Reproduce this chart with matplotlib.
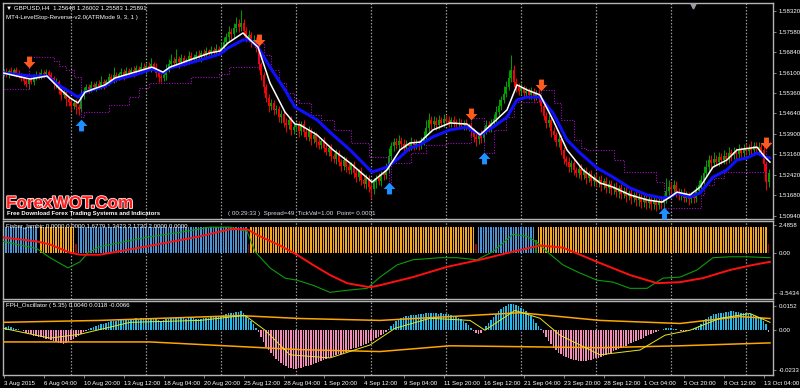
import numpy as np
import matplotlib
matplotlib.use("Agg")
import matplotlib.pyplot as plt
import matplotlib.patheffects as pe
import matplotlib.transforms as mtrans
from matplotlib.path import Path

plt.rcParams['font.family'] = ['Liberation Sans', 'DejaVu Sans']

# ---------------- DATA ----------------
# bar index 0 = Mon 3 Aug 2015 00:00 (H4 bars, 6 per day, 30 per week)
first_bar = 3
first_open = 1.5606
closes = [
    1.5612, 1.5605, 1.5615, 1.5608, 1.5618, 1.5610, 1.5600,
    1.5592, 1.5580, 1.5570, 1.5585, 1.5578, 1.5595, 1.5603, 1.5598, 1.5610, 1.5605,
    1.5612, 1.5600, 1.5590, 1.5568, 1.5575, 1.5548, 1.5530, 1.5540, 1.5515, 1.5505,
    1.5490, 1.5502, 1.5488, 1.5480, 1.5530, 1.5545, 1.5560, 1.5552, 1.5565, 1.5558,
    1.5570, 1.5562, 1.5575, 1.5568, 1.5580, 1.5595, 1.5585, 1.5600, 1.5592, 1.5605,
    1.5612, 1.5600, 1.5615, 1.5608, 1.5620, 1.5612, 1.5625, 1.5618, 1.5630, 1.5622,
    1.5635, 1.5628, 1.5640, 1.5632, 1.5610, 1.5595, 1.5590, 1.5600, 1.5625, 1.5640,
    1.5652, 1.5645, 1.5660, 1.5650, 1.5662, 1.5648, 1.5655, 1.5670, 1.5660, 1.5668,
    1.5675, 1.5665, 1.5680, 1.5672, 1.5688, 1.5680, 1.5690, 1.5684, 1.5695, 1.5688,
    1.5700, 1.5720, 1.5740, 1.5755, 1.5748, 1.5770, 1.5785, 1.5775, 1.5790, 1.5760,
    1.5735, 1.5745, 1.5720, 1.5728, 1.5700, 1.5640, 1.5600, 1.5560, 1.5520, 1.5490,
    1.5500, 1.5475, 1.5480, 1.5450, 1.5460, 1.5430, 1.5420, 1.5440, 1.5405, 1.5415,
    1.5420, 1.5400, 1.5425, 1.5395, 1.5380, 1.5400, 1.5370, 1.5385, 1.5360, 1.5350,
    1.5365, 1.5340, 1.5325, 1.5340, 1.5310, 1.5300, 1.5320, 1.5290, 1.5275, 1.5295,
    1.5270, 1.5260, 1.5280, 1.5250, 1.5235, 1.5255, 1.5225, 1.5210, 1.5230, 1.5200,
    1.5190, 1.5215, 1.5230, 1.5220, 1.5245, 1.5240, 1.5260, 1.5310, 1.5345, 1.5360,
    1.5350, 1.5365, 1.5355, 1.5340, 1.5352, 1.5345, 1.5358, 1.5348, 1.5355, 1.5350,
    1.5362, 1.5380, 1.5410, 1.5440, 1.5425, 1.5435, 1.5420, 1.5440, 1.5430, 1.5445,
    1.5435, 1.5428, 1.5440, 1.5432, 1.5425, 1.5430, 1.5420, 1.5428, 1.5415, 1.5420,
    1.5400, 1.5380, 1.5370, 1.5385, 1.5375, 1.5400, 1.5420, 1.5410, 1.5430, 1.5445,
    1.5470, 1.5490, 1.5510, 1.5535, 1.5560, 1.5590, 1.5620, 1.5575, 1.5560, 1.5545,
    1.5555, 1.5538, 1.5545, 1.5530, 1.5540, 1.5525, 1.5535, 1.5520, 1.5490, 1.5455,
    1.5430, 1.5440, 1.5400, 1.5385, 1.5360, 1.5370, 1.5330, 1.5300, 1.5290, 1.5270,
    1.5285, 1.5260, 1.5250, 1.5265, 1.5240, 1.5255, 1.5230, 1.5245, 1.5220, 1.5235,
    1.5215, 1.5225, 1.5205, 1.5220, 1.5195, 1.5210, 1.5190, 1.5200, 1.5180, 1.5195,
    1.5175, 1.5185, 1.5165, 1.5178, 1.5160, 1.5170, 1.5150, 1.5162, 1.5145, 1.5158,
    1.5140, 1.5152, 1.5138, 1.5148, 1.5135, 1.5145, 1.5140, 1.5155, 1.5185, 1.5200,
    1.5190, 1.5205, 1.5180, 1.5170, 1.5178, 1.5160, 1.5170, 1.5155, 1.5165, 1.5160,
    1.5185, 1.5205, 1.5225, 1.5250, 1.5270, 1.5295, 1.5285, 1.5300, 1.5290, 1.5305,
    1.5295, 1.5310, 1.5300, 1.5320, 1.5312, 1.5325, 1.5318, 1.5330, 1.5322, 1.5335,
    1.5328, 1.5340, 1.5332, 1.5345, 1.5335, 1.5342, 1.5330, 1.5280, 1.5215, 1.5250,
]
# wick sizes in pips (above body / below body)
upper_wick = [
    10, 14, 7, 16, 9, 12, 8,
    9, 14, 10, 7, 15, 9, 12, 10, 14, 8,
    10, 7, 12, 9, 15, 10, 7, 14, 9, 10,
    12, 9, 15, 10, 20, 14, 10, 9, 15, 12,
    10, 14, 24, 12, 9, 15, 10, 30, 12, 9,
    14, 10, 17, 12, 9, 15, 12, 10, 20, 14,
    9, 15, 24, 10, 14, 9, 12, 15, 17, 20,
    25, 14, 34, 10, 15, 12, 9, 19, 14, 10,
    12, 15, 10, 17, 14, 9, 15, 12, 19, 10,
    17, 20, 14, 24, 15, 19, 27, 17, 45, 14,
    15, 17, 12, 19, 10, 14, 9, 12, 10, 14,
    17, 10, 15, 9, 14, 12, 17, 10, 15, 12,
    14, 17, 10, 15, 12, 19, 10, 14, 12, 15,
    10, 14, 12, 9, 15, 10, 17, 12, 9, 14,
    10, 15, 9, 12, 14, 10, 15, 12, 17, 10,
    14, 17, 12, 20, 10, 15, 24, 30, 17, 14,
    15, 20, 12, 17, 14, 10, 19, 12, 15, 14,
    17, 20, 30, 25, 15, 19, 14, 17, 12, 15,
    14, 19, 12, 15, 10, 17, 14, 12, 15, 10,
    14, 10, 15, 12, 17, 14, 19, 15, 12, 17,
    20, 24, 17, 27, 20, 30, 55, 17, 15, 14,
    17, 12, 15, 10, 19, 14, 12, 17, 10, 15,
    14, 17, 12, 15, 10, 14, 17, 12, 10, 15,
    12, 15, 10, 14, 17, 12, 15, 10, 14, 12,
    15, 12, 17, 10, 14, 15, 12, 14, 17, 10,
    14, 12, 15, 10, 17, 12, 14, 15, 10, 14,
    12, 15, 10, 14, 12, 17, 20, 15, 45, 24,
    17, 20, 14, 15, 12, 17, 14, 10, 15, 12,
    17, 20, 15, 24, 27, 20, 17, 25, 15, 19,
    17, 20, 15, 24, 14, 19, 15, 22, 14, 17,
    20, 15, 24, 17, 14, 19, 15, 20, 10, 14,
]
lower_wick = [
    9, 12, 15, 7, 10, 14, 9,
    12, 15, 10, 20, 9, 14, 10, 12, 9, 15,
    10, 14, 9, 17, 12, 15, 20, 10, 24, 14,
    17, 12, 27, 24, 10, 14, 9, 15, 10, 12,
    14, 9, 12, 15, 10, 14, 9, 12, 15, 10,
    12, 15, 9, 14, 10, 17, 12, 9, 14, 10,
    15, 10, 14, 12, 17, 20, 14, 10, 15, 12,
    10, 14, 9, 24, 12, 15, 10, 14, 9, 12,
    14, 10, 15, 12, 9, 14, 10, 15, 12, 14,
    10, 14, 12, 15, 17, 14, 12, 20, 15, 17,
    14, 15, 19, 12, 17, 20, 15, 24, 17, 20,
    15, 19, 14, 17, 20, 15, 24, 14, 19, 17,
    15, 20, 14, 17, 12, 15, 19, 14, 17, 15,
    14, 17, 12, 15, 19, 14, 17, 15, 20, 14,
    17, 15, 14, 20, 17, 14, 19, 15, 17, 20,
    34, 17, 20, 14, 17, 15, 14, 12, 15, 17,
    14, 17, 15, 19, 14, 17, 12, 15, 14, 17,
    15, 14, 12, 15, 17, 14, 15, 12, 17, 14,
    12, 15, 14, 17, 12, 15, 14, 17, 12, 15,
    17, 20, 24, 15, 19, 14, 12, 15, 14, 12,
    14, 12, 15, 10, 14, 12, 15, 17, 20, 15,
    14, 17, 12, 15, 14, 17, 15, 14, 20, 17,
    19, 15, 20, 17, 15, 19, 17, 20, 15, 19,
    17, 20, 15, 19, 17, 14, 20, 15, 19, 17,
    17, 15, 20, 14, 19, 17, 20, 15, 17, 20,
    19, 17, 20, 15, 24, 17, 20, 19, 22, 17,
    20, 17, 24, 19, 22, 17, 20, 15, 14, 17,
    15, 14, 19, 17, 20, 15, 17, 20, 15, 19,
    14, 12, 15, 14, 17, 15, 19, 14, 17, 15,
    15, 14, 17, 15, 19, 14, 17, 15, 14, 17,
    15, 17, 14, 19, 15, 17, 20, 24, 27, 17,
]

# fast (white) and slow (blue) averages, vertices (bar, price)
white_bar = [2.8, 13.6, 20.4, 25.6, 29.6, 32.8, 35.6, 43.6, 47.6, 55.6, 62.4, 66.8, 69.6, 77.6,
             85.6, 89.6, 92.8, 98.8, 101.6, 104.8, 109.6, 115.6, 119.6, 121.6, 128.4, 134.8,
             141.6, 150.4, 156.4, 161.6, 165.6, 169.6, 174.8, 181.6, 188.4, 193.6, 198.8,
             204.4, 208.4, 212.4, 217.6, 222.8, 228.4, 234.8, 241.6, 246.8, 253.6, 260.4,
             266.4, 269.6, 272.4, 277.6, 281.6, 286.8, 292.4, 296.4, 304.4, 307.6, 309.6]
white_price = [1.5609, 1.5587, 1.5598, 1.5551, 1.5519, 1.5501, 1.5540, 1.5566, 1.5591, 1.5612,
               1.5630, 1.5612, 1.5630, 1.5656, 1.5681, 1.5688, 1.5717, 1.5753, 1.5728, 1.5702,
               1.5573, 1.5468, 1.5425, 1.5422, 1.5386, 1.5332, 1.5285, 1.5216, 1.5260, 1.5332,
               1.5357, 1.5360, 1.5404, 1.5429, 1.5425, 1.5386, 1.5429, 1.5476, 1.5566, 1.5548,
               1.5530, 1.5440, 1.5332, 1.5260, 1.5213, 1.5198, 1.5170, 1.5152, 1.5144, 1.5162,
               1.5180, 1.5170, 1.5198, 1.5270, 1.5296, 1.5332, 1.5342, 1.5306, 1.5288]
blue_bar = [2.8, 13.6, 20.4, 25.6, 29.6, 32.8, 35.6, 43.6, 47.6, 55.6, 62.4, 66.8, 69.6, 77.6,
            85.6, 89.6, 92.8, 98.8, 101.6, 104.8, 109.6, 115.6, 119.6, 121.6, 128.4, 134.8,
            141.6, 150.4, 156.4, 161.6, 165.6, 169.6, 174.8, 181.6, 188.4, 193.6, 198.8,
            204.4, 208.4, 212.4, 217.6, 222.8, 228.4, 233.6, 240.4, 246.8, 253.6, 260.4,
            266.4, 269.6, 272.4, 277.6, 281.6, 286.8, 292.4, 296.4, 300.4, 304.4, 307.6, 309.6]
blue_price = [1.5609, 1.5598, 1.5598, 1.5562, 1.5540, 1.5522, 1.5540, 1.5562, 1.5584, 1.5602,
              1.5623, 1.5609, 1.5627, 1.5645, 1.5666, 1.5677, 1.5699, 1.5728, 1.5728, 1.5702,
              1.5630, 1.5548, 1.5486, 1.5476, 1.5440, 1.5386, 1.5332, 1.5252, 1.5270, 1.5306,
              1.5339, 1.5350, 1.5379, 1.5404, 1.5414, 1.5386, 1.5414, 1.5450, 1.5512, 1.5522,
              1.5522, 1.5465, 1.5368, 1.5321, 1.5267, 1.5234, 1.5195, 1.5170, 1.5159, 1.5162,
              1.5177, 1.5162, 1.5177, 1.5234, 1.5260, 1.5296, 1.5303, 1.5321, 1.5306, 1.5303]

# LevelStop-Reverse stop line (step starts)
stop_bar = [3, 13, 23, 25, 28, 31, 34, 35, 45, 53, 57, 61, 78, 89, 93, 105, 107, 110, 113, 116,
            119, 121, 126, 130, 135, 142, 149, 157, 158, 166, 172, 180, 190, 195, 199, 204, 207,
            218, 223, 226, 231, 234, 236, 247, 251, 264, 267, 282, 283, 287, 291, 308, 310]
stop_price = [1.5551, 1.5666, 1.5652, 1.5634, 1.5620, 1.5594, 1.5450, 1.5468, 1.5494, 1.5522,
              1.5555, 1.5573, 1.5594, 1.5605, 1.5630, 1.5717, 1.5674, 1.5620, 1.5573, 1.5537,
              1.5512, 1.5501, 1.5458, 1.5440, 1.5404, 1.5357, 1.5306, 1.5198, 1.5285, 1.5321,
              1.5350, 1.5357, 1.5447, 1.5321, 1.5404, 1.5450, 1.5505, 1.5548, 1.5501, 1.5440,
              1.5368, 1.5339, 1.5332, 1.5296, 1.5252, 1.5216, 1.5123, 1.5170, 1.5206, 1.5231,
              1.5252, 1.5360, 1.5360]

sell_bar = [13, 105, 190, 218, 308]
sell_price = [1.5648, 1.5728, 1.5461, 1.5566, 1.5357]
buy_bar = [34, 157, 195, 267]
buy_price = [1.5422, 1.5195, 1.5303, 1.5105]

price_ticks = [1.58320, 1.57580, 1.56840, 1.56100, 1.55360, 1.54640,
               1.53900, 1.53160, 1.52420, 1.51680, 1.50940]

# Fisher histogram segments
fisher_seg_start = [3, 18, 32, 33, 101, 102, 192, 193, 216, 217, 309]
fisher_seg_end = [16, 31, 32, 100, 101, 191, 192, 215, 216, 308, 309]
fisher_seg_kind = ['up', 'down', 'weak_dn', 'up', 'weak_dn', 'down', 'weak_dn', 'up', 'weak_up', 'down', 'weak_dn']
fisher_seg_value = [2.0, 2.0, 0.7, 2.0, 0.7, 2.0, 0.7, 2.0, 1.0, 2.0, 0.7]

fisher_green_bar = [2.8, 16.4, 21.6, 28.8, 33.6, 36.8, 41.6, 60.0, 73.6, 85.6, 93.6, 100.4, 103.6,
                    109.6, 115.6, 120.4, 126.8, 133.6, 140.4, 148.4, 153.6, 160.4, 166.8, 177.6,
                    184.4, 192.4, 198.8, 206.8, 212.4, 216.4, 220.4, 226.8, 233.6, 240.4, 246.8,
                    253.6, 260.4, 266.8, 273.6, 280.4, 286.8, 293.6, 300.4, 309.6]
fisher_green = [0.91, 0.35, -0.35, -1.14, -0.67, 0.04, 0.51, 1.22, 1.61, 2.01, 2.01, 1.69, 0.12,
                -1.14, -1.93, -2.09, -2.48, -3.03, -2.87, -2.72, -1.85, -0.91, -0.51, -0.35,
                -0.35, -0.51, 0.12, 1.46, 1.30, 0.83, 0.12, -0.91, -1.54, -2.09, -2.24,
                -2.72, -2.72, -1.93, -1.85, -1.30, -0.35, -0.28, -0.28, -0.35]
fisher_red_bar = [2.8, 16.4, 21.6, 29.6, 33.6, 41.6, 60.0, 81.6, 93.6, 100.4, 105.6, 113.6, 120.4,
                  126.8, 133.6, 140.4, 149.6, 153.6, 166.8, 180.4, 193.6, 206.8, 217.6, 226.8,
                  233.6, 240.4, 253.6, 264.4, 273.6, 282.8, 293.6, 302.8, 309.6]
fisher_red = [1.22, 0.91, 0.67, 0.04, -0.12, -0.12, 0.51, 1.30, 1.85, 1.85, 1.30, 0.59, -0.12,
              -0.91, -1.69, -2.32, -2.64, -2.48, -1.85, -1.06, -0.51, 0.12, 0.59, 0.43,
              -0.12, -0.67, -1.69, -2.32, -2.24, -1.93, -1.30, -0.91, -0.67]

# FPH oscillator histogram (one value per bar)
fph_hist = [
    0.0015, 0.0018, 0.0020, 0.0016, 0.0012, 0.0008, 0.0004,
    0.0000, -0.0006, -0.0012, -0.0018, -0.0022, -0.0028, -0.0030, -0.0034, -0.0036, -0.0040,
    -0.0044, -0.0048, -0.0052, -0.0058, -0.0062, -0.0066, -0.0068, -0.0070, -0.0066, -0.0060,
    -0.0052, -0.0044, -0.0036, -0.0028, -0.0018, -0.0010, -0.0004, 0.0004, 0.0010, 0.0016,
    0.0020, 0.0026, 0.0030, 0.0034, 0.0038, 0.0042, 0.0046, 0.0048, 0.0050, 0.0052,
    0.0054, 0.0056, 0.0058, 0.0056, 0.0058, 0.0060, 0.0062, 0.0060, 0.0062, 0.0064,
    0.0066, 0.0064, 0.0066, 0.0062, 0.0056, 0.0052, 0.0050, 0.0052, 0.0056, 0.0060,
    0.0062, 0.0064, 0.0066, 0.0064, 0.0066, 0.0062, 0.0060, 0.0062, 0.0064, 0.0062,
    0.0060, 0.0058, 0.0060, 0.0062, 0.0064, 0.0066, 0.0068, 0.0070, 0.0072, 0.0074,
    0.0076, 0.0080, 0.0084, 0.0088, 0.0090, 0.0092, 0.0094, 0.0096, 0.0098, 0.0090,
    0.0076, 0.0060, 0.0046, 0.0030, 0.0012, -0.0010, -0.0035, -0.0060, -0.0085, -0.0105,
    -0.0120, -0.0135, -0.0148, -0.0160, -0.0170, -0.0180, -0.0188, -0.0194, -0.0198, -0.0200,
    -0.0200, -0.0198, -0.0195, -0.0192, -0.0188, -0.0184, -0.0180, -0.0175, -0.0170, -0.0165,
    -0.0160, -0.0155, -0.0150, -0.0145, -0.0140, -0.0135, -0.0130, -0.0126, -0.0122, -0.0118,
    -0.0112, -0.0106, -0.0100, -0.0095, -0.0090, -0.0085, -0.0080, -0.0076, -0.0070, -0.0064,
    -0.0058, -0.0050, -0.0042, -0.0034, -0.0026, -0.0018, -0.0008, 0.0006, 0.0020, 0.0034,
    0.0046, 0.0056, 0.0064, 0.0070, 0.0074, 0.0076, 0.0078, 0.0080, 0.0080, 0.0082,
    0.0084, 0.0086, 0.0088, 0.0090, 0.0092, 0.0090, 0.0088, 0.0086, 0.0088, 0.0086,
    0.0084, 0.0082, 0.0080, 0.0076, 0.0072, 0.0066, 0.0058, 0.0050, 0.0040, 0.0028,
    0.0014, -0.0004, -0.0016, -0.0020, -0.0012, 0.0004, 0.0020, 0.0036, 0.0052, 0.0068,
    0.0084, 0.0098, 0.0110, 0.0120, 0.0128, 0.0134, 0.0138, 0.0136, 0.0130, 0.0124,
    0.0118, 0.0110, 0.0100, 0.0088, 0.0074, 0.0058, 0.0040, 0.0022, 0.0004, -0.0016,
    -0.0036, -0.0056, -0.0074, -0.0090, -0.0104, -0.0116, -0.0126, -0.0134, -0.0140, -0.0146,
    -0.0150, -0.0154, -0.0156, -0.0158, -0.0160, -0.0160, -0.0158, -0.0156, -0.0154, -0.0150,
    -0.0146, -0.0142, -0.0138, -0.0134, -0.0128, -0.0122, -0.0116, -0.0110, -0.0104, -0.0098,
    -0.0092, -0.0086, -0.0080, -0.0074, -0.0068, -0.0062, -0.0056, -0.0050, -0.0044, -0.0038,
    -0.0032, -0.0026, -0.0020, -0.0014, -0.0008, -0.0004, 0.0000, 0.0004, 0.0010, 0.0012,
    0.0010, 0.0008, 0.0004, 0.0000, -0.0004, -0.0006, -0.0004, -0.0002, 0.0000, 0.0004,
    0.0012, 0.0022, 0.0034, 0.0046, 0.0058, 0.0068, 0.0076, 0.0082, 0.0086, 0.0088,
    0.0090, 0.0092, 0.0094, 0.0096, 0.0098, 0.0098, 0.0096, 0.0094, 0.0092, 0.0090,
    0.0088, 0.0086, 0.0084, 0.0080, 0.0076, 0.0070, 0.0062, 0.0050, 0.0030, -0.0010,
]
fph_upper_bar = [2.8, 41.6, 97.6, 121.6, 153.6, 181.6, 209.6, 241.6, 273.6, 297.6, 309.6]
fph_upper = [0.0041, 0.0051, 0.0076, 0.0061, 0.0051, 0.0071, 0.0091, 0.0051, 0.0035, 0.0071, 0.0061]
fph_lower_bar = [2.8, 61.6, 121.6, 153.6, 181.6, 241.6, 273.6, 309.6]
fph_lower = [-0.0061, -0.0061, -0.0101, -0.0111, -0.0081, -0.0091, -0.0081, -0.0066]
fph_signal_bar = [2.8, 21.6, 33.6, 53.6, 81.6, 99.6, 107.6, 117.6, 133.6, 149.6, 159.6, 173.6,
                  189.6, 195.6, 207.6, 217.6, 225.6, 241.6, 257.6, 267.6, 277.6, 289.6, 301.6, 309.6]
fph_signal = [0.0010, -0.0041, -0.0021, 0.0041, 0.0051, 0.0077, 0.0000, -0.0128, -0.0144, -0.0077,
              0.0010, 0.0062, 0.0051, 0.0000, 0.0103, 0.0062, -0.0026, -0.0128, -0.0103, -0.0026,
              0.0000, 0.0062, 0.0087, 0.0041]

# indicator-window scale labels: (shown text, level where MT4 prints it)
fisher_scale_text = ['2.4858', '0.00', '-3.5434']
fisher_scale_at = [2.17, 0.0, -3.10]
fph_scale_text = ['0.0152', '0.00', '-0.0233']
fph_scale_at = [0.0126, 0.0, -0.0205]

week_start_bars = [30, 60, 90, 120, 150, 180, 210, 240, 270, 300]
xlabel_bars = [3, 19, 35, 51, 67, 83, 99, 115, 131, 147, 163, 179, 195, 211, 227, 243, 259, 275, 291, 307]
xlabels = ['3 Aug 2015', '6 Aug 04:00', '10 Aug 20:00', '13 Aug 12:00', '18 Aug 04:00',
           '20 Aug 20:00', '25 Aug 12:00', '28 Aug 04:00', '1 Sep 20:00', '4 Sep 12:00',
           '9 Sep 04:00', '11 Sep 20:00', '16 Sep 12:00', '21 Sep 04:00', '23 Sep 20:00',
           '28 Sep 12:00', '1 Oct 04:00', '5 Oct 20:00', '8 Oct 12:00', '13 Oct 04:00']

# ---------------- FIGURE ----------------
W, H = 800, 388
fig = plt.figure(figsize=(W / 100, H / 100), dpi=100, facecolor='black')


def px_axes(x0, y0, x1, y1):
    return fig.add_axes([x0 / W, 1 - y1 / H, (x1 - x0) / W, (y1 - y0) / H])


ax = px_axes(3, 3, 773, 219)
axf = px_axes(3, 221, 773, 299)
axo = px_axes(3, 301, 773, 375)
XL = (2.8, 310.8)
FS = 4.4
SPINE = '#b4b4b4'

for a in (ax, axf, axo):
    a.set_facecolor('black')
    a.set_xlim(*XL)
    for s in a.spines.values():
        s.set_color(SPINE)
        s.set_linewidth(1.0)
    a.yaxis.tick_right()
    a.tick_params(axis='y', direction='out', length=2.5, width=0.5, colors=SPINE,
                  labelcolor='white', labelsize=FS, pad=1.5)
    a.tick_params(axis='x', bottom=False, labelbottom=False)
    for wb in week_start_bars:
        a.axvline(wb, color='#9a9a9a', lw=0.9, ls=(0, (1.2, 1.4)), zorder=0.5)

# ---- main price panel ----
n = min(len(closes), len(upper_wick), len(lower_wick))
c = np.array(closes[:n])
bars = np.arange(first_bar, first_bar + n)
o = np.concatenate([[first_open], c[:-1]])
hi = np.maximum(o, c) + np.array(upper_wick[:n]) / 10000.0
lo = np.minimum(o, c) - np.array(lower_wick[:n]) / 10000.0
col = np.where(c >= o, '#00a000', '#ff0000')
ax.vlines(bars, lo, hi, colors=col, lw=0.7, zorder=2)
body_h = np.maximum(np.abs(c - o), 0.00005)
ax.bar(bars, body_h, bottom=np.minimum(o, c), width=0.62, color=col, linewidth=0, zorder=2)

ax.step(stop_bar, stop_price, where='post', color='#a010b8', lw=0.8, ls=(0, (1.0, 1.4)), zorder=3)
ax.plot(blue_bar, blue_price, color='#1010ff', lw=2.2, zorder=4, solid_capstyle='round')
ax.plot(white_bar, white_price, color='white', lw=1.1, zorder=5)

down_arrow = Path([(-0.25, 0.6), (0.25, 0.6), (0.25, 0.05), (0.6, 0.05), (0.0, -0.6),
                   (-0.6, 0.05), (-0.25, 0.05), (-0.25, 0.6)],
                  [Path.MOVETO] + [Path.LINETO] * 6 + [Path.CLOSEPOLY])
up_arrow = Path([(x, -y) for x, y in down_arrow.vertices], down_arrow.codes)
ax.plot(sell_bar, sell_price, ls='none', marker=down_arrow, ms=8.5, color='#ff5a1e',
        markeredgewidth=0, zorder=6)
ax.plot(buy_bar, buy_price, ls='none', marker=up_arrow, ms=8.5, color='#1e90ff',
        markeredgewidth=0, zorder=6)

ax.set_ylim(1.50832, 1.58608)
ax.set_yticks(price_ticks)
ax.set_yticklabels([f'{v:.5f}' for v in price_ticks])

# chart-shift marker at the top
ax.plot([278.8], [0.985], marker='v', ms=3.5, color='#9a9aa8',
        transform=mtrans.blended_transform_factory(ax.transData, ax.transAxes),
        clip_on=False, zorder=7)

# texts in main panel
fig.text(6 / W, 1 - 7.5 / H, '\u25bc GBPUSD,H4  1.25648 1.26002 1.25583 1.25891', color='white',
         fontsize=FS, va='center', ha='left')
fig.text(6 / W, 1 - 17 / H, 'MT4-LevelStop-Reverse-v2.0(ATRMode 9, 3, 1 )', color='white',
         fontsize=FS, va='center', ha='left')
fig.text(6 / W, 1 - 203.5 / H, 'ForexWOT.Com', color='#ff1e1e', fontsize=12.3, fontweight='bold',
         va='center', ha='left',
         path_effects=[pe.withStroke(linewidth=1.3, foreground='#ffe0e0')])
fig.text(7 / W, 1 - 213.5 / H, 'Free Download Forex Trading Systems and Indicators', color='white',
         fontsize=4.3, fontweight='bold', va='center', ha='left')
fig.text(228 / W, 1 - 213.5 / H, '( 00:29:33 )  Spread=49  TickVal=1.00  Point= 0.0001',
         color='#d8d8ec', fontsize=4.5, va='center', ha='left')

# ---- Fisher panel ----
kind_color = {'up': '#4d94d6', 'down': '#f7a81b', 'weak_dn': '#8b0a0a', 'weak_up': '#1c8a1c'}
for s, e, k, v in zip(fisher_seg_start, fisher_seg_end, fisher_seg_kind, fisher_seg_value):
    bb = np.arange(s, e + 1)
    axf.bar(bb, np.full(len(bb), v), width=0.6, color=kind_color[k], linewidth=0, zorder=2)
axf.plot(fisher_green_bar, fisher_green, color='#0c9c0c', lw=0.8, zorder=3)
axf.plot(fisher_red_bar, fisher_red, color='#ff1010', lw=1.4, zorder=3)
axf.set_ylim(-3.5434, 2.4858)
axf.set_yticks(fisher_scale_at)
axf.set_yticklabels(fisher_scale_text)
fig.text(6 / W, 1 - 226 / H, 'Fisher_lambic 0.0000 0.0000 1.6779 1.3423 2.1730 2.0000 0.0000',
         color='white', fontsize=FS, va='center', ha='left', zorder=10)

# ---- FPH panel ----
m = len(fph_hist)
fb = np.arange(first_bar, first_bar + m)
fv = np.array(fph_hist)
axo.bar(fb, fv, width=0.55, color=np.where(fv >= 0, '#22b8ec', '#f58cba'), linewidth=0, zorder=2)
axo.plot(fph_upper_bar, fph_upper, color='#ffa500', lw=1.1, zorder=3)
axo.plot(fph_lower_bar, fph_lower, color='#ffa500', lw=1.1, zorder=3)
axo.plot(fph_signal_bar, fph_signal, color='#e6e61e', lw=0.7, zorder=3)
axo.set_ylim(-0.0233, 0.0152)
axo.set_yticks(fph_scale_at)
axo.set_yticklabels(fph_scale_text)
fig.text(6 / W, 1 - 305 / H, 'FPH_Oscillator ( 5.35) 0.0040 0.0118 -0.0066',
         color='white', fontsize=FS, va='center', ha='left', zorder=10)

axo.tick_params(axis='x', bottom=True, labelbottom=True, direction='out', length=2.5, width=0.5,
                colors=SPINE, labelcolor='white', labelsize=FS, pad=1.5)
axo.set_xticks(xlabel_bars)
axo.set_xticklabels(xlabels, ha='left')

fig.savefig('out.png', dpi=100, facecolor='black')
